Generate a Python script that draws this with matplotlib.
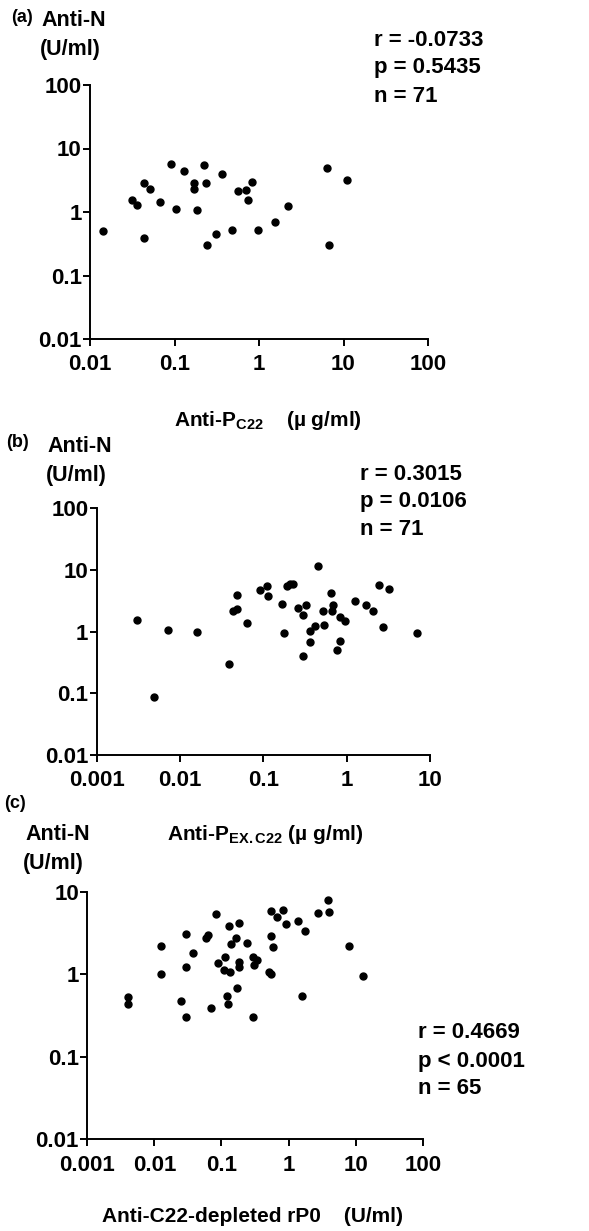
import numpy as np
import matplotlib
matplotlib.use('Agg')
import matplotlib.pyplot as plt
from matplotlib.ticker import FixedLocator, FixedFormatter, NullLocator

plt.rcParams['font.family'] = ['Liberation Sans', 'DejaVu Sans']
plt.rcParams['font.weight'] = 'bold'
plt.rcParams['mathtext.fontset'] = 'custom'
plt.rcParams['mathtext.rm'] = 'Liberation Sans:bold'
plt.rcParams['mathtext.it'] = 'Liberation Sans:bold'
plt.rcParams['mathtext.bf'] = 'Liberation Sans:bold'

# panel (a): anti-P C22 vs anti-N
a_x = [0.0144, 0.0317, 0.0356, 0.0435, 0.0513, 0.0441, 0.0673, 0.0902, 0.103, 0.130,
       0.172, 0.172, 0.183, 0.221, 0.234, 0.245, 0.310, 0.361, 0.475, 0.560,
       0.701, 0.735, 0.834, 0.964, 1.55, 2.22, 6.44, 6.75, 10.9]
a_y = [0.51, 1.55, 1.30, 2.84, 2.29, 0.388, 1.44, 5.72, 1.12, 4.49,
       2.84, 2.29, 1.06, 5.52, 2.84, 0.297, 0.454, 3.98, 0.525, 2.15,
       2.23, 1.55, 2.98, 0.525, 0.684, 1.26, 5.01, 0.297, 3.21]

# panel (b): anti-P EX.C22 vs anti-N
b_x = [0.00302, 0.00492, 0.00711, 0.0161, 0.0384, 0.0437, 0.0479, 0.0488, 0.063, 0.0912,
       0.110, 0.113, 0.166, 0.179, 0.194, 0.209, 0.225, 0.258, 0.296, 0.302,
       0.322, 0.363, 0.363, 0.417, 0.449, 0.525, 0.54, 0.643, 0.67, 0.692,
       0.773, 0.832, 0.832, 0.955, 1.26, 1.69, 2.09, 2.47, 2.75, 3.22, 7.05]
b_y = [1.51, 0.0861, 1.04, 0.99, 0.295, 2.11, 2.30, 3.93, 1.36, 4.74,
       5.50, 3.79, 2.81, 0.94, 5.4, 5.93, 5.93, 2.39, 1.86, 0.408,
       2.70, 1.02, 0.68, 1.24, 11.3, 2.16, 1.26, 4.19, 2.16, 2.70,
       0.505, 0.689, 1.73, 1.49, 3.16, 2.67, 2.16, 5.57, 1.20, 4.92, 0.94]

# panel (c): anti-C22-depleted rP0 vs anti-N
c_x = [0.00408, 0.00408, 0.0125, 0.0124, 0.0250, 0.0292, 0.0292, 0.0296, 0.0373, 0.058,
       0.0637, 0.069, 0.0818, 0.0897, 0.109, 0.113, 0.120, 0.124, 0.131, 0.133,
       0.138, 0.163, 0.172, 0.182, 0.182, 0.182, 0.243, 0.292, 0.297, 0.307,
       0.335, 0.518, 0.547, 0.55, 0.547, 0.593, 0.665, 0.836, 0.906, 1.40,
       1.57, 1.76, 2.78, 3.83, 4.06, 7.98, 13.0]
c_y = [0.535, 0.432, 2.20, 1.0, 0.474, 1.24, 0.306, 3.07, 1.82, 2.77,
       2.99, 0.394, 5.31, 1.38, 1.12, 1.60, 0.545, 0.436, 3.84, 1.07,
       2.30, 2.77, 0.675, 4.21, 1.42, 1.24, 2.37, 1.63, 0.306, 1.29,
       1.49, 1.07, 1.0, 5.89, 2.90, 2.16, 4.98, 6.0, 4.02, 4.45,
       0.55, 3.34, 5.47, 7.93, 5.73, 2.22, 0.95]

a_xticks = [0.01, 0.1, 1, 10, 100]
a_xlabels = ['0.01', '0.1', '1', '10', '100']
b_xticks = [0.001, 0.01, 0.1, 1, 10]
b_xlabels = ['0.001', '0.01', '0.1', '1', '10']
c_xticks = [0.001, 0.01, 0.1, 1, 10, 100]
c_xlabels = ['0.001', '0.01', '0.1', '1', '10', '100']
ab_yticks = [0.01, 0.1, 1, 10, 100]
ab_ylabels = ['0.01', '0.1', '1', '10', '100']
c_yticks = [0.01, 0.1, 1, 10]
c_ylabels = ['0.01', '0.1', '1', '10']

a_stats = ['r = -0.0733', 'p = 0.5435', 'n = 71']
b_stats = ['r = 0.3015', 'p = 0.0106', 'n = 71']
c_stats = ['r = 0.4669', 'p < 0.0001', 'n = 65']

W, H = 589, 1231
fig = plt.figure(figsize=(W / 100, H / 100), dpi=100)


def px(x, y):
    return x / W, 1 - y / H


def make_ax(left, top, right, bottom, xs, ys, xt, xl, yt, yl):
    ax = fig.add_axes([left / W, 1 - bottom / H, (right - left) / W, (bottom - top) / H])
    ax.plot(xs, ys, 'o', color='black', ms=5, mec='black', clip_on=False)
    ax.set_xscale('log')
    ax.set_yscale('log')
    ax.set_xlim(xt[0], xt[-1])
    ax.set_ylim(yt[0], yt[-1])
    ax.xaxis.set_major_locator(FixedLocator(xt))
    ax.xaxis.set_major_formatter(FixedFormatter(xl))
    ax.yaxis.set_major_locator(FixedLocator(yt))
    ax.yaxis.set_major_formatter(FixedFormatter(yl))
    ax.xaxis.set_minor_locator(NullLocator())
    ax.yaxis.set_minor_locator(NullLocator())
    for s in ['top', 'right']:
        ax.spines[s].set_visible(False)
    for s in ['left', 'bottom']:
        ax.spines[s].set_linewidth(1.4)
    ax.tick_params(axis='both', length=5, width=1.4, labelsize=16)
    ax.tick_params(axis='x', pad=6)
    ax.tick_params(axis='y', pad=1)
    for lab in ax.get_xticklabels() + ax.get_yticklabels():
        lab.set_fontweight('bold')
    return ax


make_ax(90, 85, 428, 339, a_x, a_y, a_xticks, a_xlabels, ab_yticks, ab_ylabels)
make_ax(96.7, 508, 430, 755, b_x, b_y, b_xticks, b_xlabels, ab_yticks, ab_ylabels)
make_ax(87.3, 891.7, 422.7, 1139.3, c_x, c_y, c_xticks, c_xlabels, c_yticks, c_ylabels)

kw = dict(fontweight='bold', va='center', ha='left')

# panel (a) labels
fig.text(*px(11, 18), '(a)', fontsize=13, **kw)
fig.text(*px(41, 20), 'Anti-N', fontsize=15.5, **kw)
fig.text(*px(40, 50), '(U/ml)', fontsize=15.5, **kw)
for i, s in enumerate(a_stats):
    fig.text(*px(374, 40 + i * 28), s, fontsize=16, **kw)
fig.text(*px(174, 420), 'Anti-P$_{\\mathrm{C22}}$    (\u00b5 g/ml)', fontsize=15, **kw)

# panel (b) labels
fig.text(*px(6, 442), '(b)', fontsize=13, **kw)
fig.text(*px(47, 447), 'Anti-N', fontsize=15.5, **kw)
fig.text(*px(46, 476), '(U/ml)', fontsize=15.5, **kw)
for i, s in enumerate(b_stats):
    fig.text(*px(360, 475 + i * 27), s, fontsize=16, **kw)

# panel (c) labels
fig.text(*px(4, 804), '(c)', fontsize=13, **kw)
fig.text(*px(167, 834), 'Anti-P$_{\\mathrm{EX.C22}}$ (\u00b5 g/ml)', fontsize=15, **kw)
fig.text(*px(25, 834), 'Anti-N', fontsize=15.5, **kw)
fig.text(*px(23, 863), '(U/ml)', fontsize=15.5, **kw)
for i, s in enumerate(c_stats):
    fig.text(*px(418, 1033 + i * 28), s, fontsize=16, **kw)
fig.text(*px(102, 1217), 'Anti-C22-depleted rP0    (U/ml)', fontsize=15, **kw)

fig.savefig('out.png', dpi=100)
